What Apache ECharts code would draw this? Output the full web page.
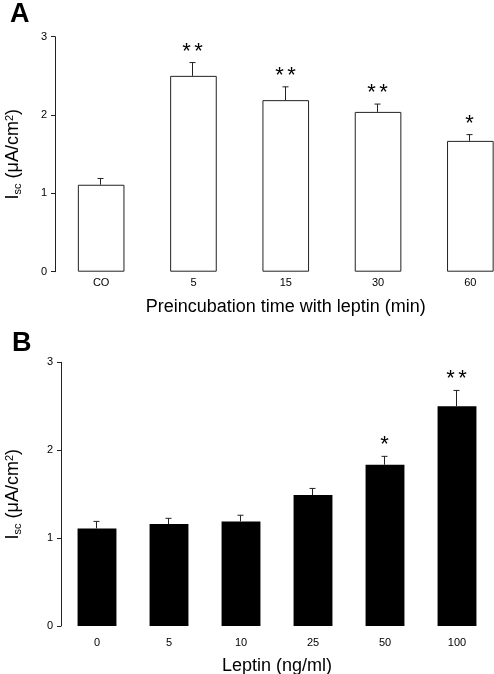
<!DOCTYPE html>
<html>
<head>
<meta charset="utf-8">
<script src="https://cdn.jsdelivr.net/npm/echarts@6/dist/echarts.min.js"></script>
<style>
html,body{margin:0;padding:0;background:#fff;}
#chart{width:494px;height:674px;}
</style>
</head>
<body>
<div id="chart"></div>
<script>
// Panel A
const catsA = ['CO', '5', '15', '30', '60'];
const meansA = [1.11, 2.50, 2.19, 2.04, 1.67];
const errTopA = [1.19, 2.67, 2.36, 2.14, 1.75];
const starsA = [0, 2, 2, 2, 1];
// Panel B
const catsB = ['0', '5', '10', '25', '50', '100'];
const meansB = [1.11, 1.16, 1.19, 1.49, 1.835, 2.50];
const errTopB = [1.19, 1.225, 1.26, 1.565, 1.93, 2.68];
const starsB = [0, 0, 0, 0, 1, 2];
const yTicks = [0, 1, 2, 3];

const FONT = '"Liberation Sans", Arial, sans-serif';

function errData(means, tops) {
  return means.map((m, i) => [i, m, tops[i]]);
}

function makeRender(stars) {
  return function (params, api) {
    const i = api.value(0);
    const base = api.coord([i, api.value(1)]);
    const top = api.coord([i, api.value(2)]);
    const n = stars[params.dataIndex];
    const x = Math.round(base[0]) - 0.5;
    const ch = [
      {type: 'line', shape: {x1: x, y1: base[1], x2: x, y2: top[1]}, style: {stroke: '#222', lineWidth: 1}},
      {type: 'line', shape: {x1: x - 3, y1: top[1], x2: x + 3, y2: top[1]}, style: {stroke: '#222', lineWidth: 1}}
    ];
    for (let k = 0; k < n; k++) {
      const dx = n === 1 ? 0 : (k === 0 ? -6 : 6);
      ch.push({type: 'text', x: x + dx, y: top[1] - 11,
        style: {text: '*', fontSize: 22, fontFamily: FONT, fill: '#000', align: 'center', verticalAlign: 'middle'}});
    }
    return {type: 'group', children: ch};
  };
}

const yName = '{n|I}{sub|sc}{n| (μA/cm}{sup|2}{n|)}';
const yNameStyle = {
  fontFamily: FONT, color: '#000',
  rich: {
    n: {fontSize: 18, fontFamily: FONT, color: '#000', verticalAlign: 'middle'},
    sub: {fontSize: 11, fontFamily: FONT, color: '#000', verticalAlign: 'bottom', padding: [8, 0, 0, 0]},
    sup: {fontSize: 11, fontFamily: FONT, color: '#000', verticalAlign: 'top', padding: [0, 0, 8, 0]}
  }
};

function yAxis(gi, gap) {
  return {
    gridIndex: gi, type: 'value', min: 0, max: 3, interval: 1,
    axisLine: {show: true, lineStyle: {color: '#222', width: 1}},
    axisTick: {show: true, inside: false, length: 4, lineStyle: {color: '#222'}},
    splitLine: {show: false},
    axisLabel: {fontSize: 11, fontFamily: FONT, color: '#000', margin: 8, formatter: v => yTicks.includes(v) ? String(v) : ''},
    name: yName, nameLocation: 'middle', nameGap: gap, nameRotate: 90,
    nameTextStyle: yNameStyle
  };
}

function xAxis(gi, cats, name, gap, margin) {
  return {
    gridIndex: gi, type: 'category', data: cats,
    axisLine: {show: false}, axisTick: {show: false},
    axisLabel: {fontSize: 11, fontFamily: FONT, color: '#000', margin: margin},
    name: name, nameLocation: 'middle', nameGap: gap,
    nameTextStyle: {fontSize: 18, fontFamily: FONT, color: '#000'}
  };
}

const chart = echarts.init(document.getElementById('chart'), null, {renderer: 'canvas'});
chart.setOption({
  animation: false,
  backgroundColor: '#fff',
  title: [
    {text: 'A', left: 5, top: -4, textStyle: {fontSize: 27, fontWeight: 'bold', fontFamily: FONT, color: '#000'}},
    {text: 'B', left: 7, top: 325, textStyle: {fontSize: 27, fontWeight: 'bold', fontFamily: FONT, color: '#000'}}
  ],
  grid: [
    {left: 55, top: 36.7, width: 461.5, height: 235, containLabel: false, outerBoundsMode: 'none'},
    {left: 61, top: 362.3, width: 432, height: 263.7, containLabel: false, outerBoundsMode: 'none'}
  ],
  xAxis: [
    xAxis(0, catsA, 'Preincubation time with leptin (min)', 26, 6),
    xAxis(1, catsB, 'Leptin (ng/ml)', 31, 11)
  ],
  yAxis: [yAxis(0, 32), yAxis(1, 38)],
  series: [
    {type: 'bar', xAxisIndex: 0, yAxisIndex: 0, data: meansA, barWidth: '50.5%',
     itemStyle: {color: '#fff', borderColor: '#222', borderWidth: 1}, z: 2},
    {type: 'custom', xAxisIndex: 0, yAxisIndex: 0, data: errData(meansA, errTopA), renderItem: makeRender(starsA), clip: false, z: 3},
    {type: 'bar', xAxisIndex: 1, yAxisIndex: 1, data: meansB, barWidth: '54%',
     itemStyle: {color: '#000'}, z: 2},
    {type: 'custom', xAxisIndex: 1, yAxisIndex: 1, data: errData(meansB, errTopB), renderItem: makeRender(starsB), clip: false, z: 3}
  ]
});
</script>
</body>
</html>
